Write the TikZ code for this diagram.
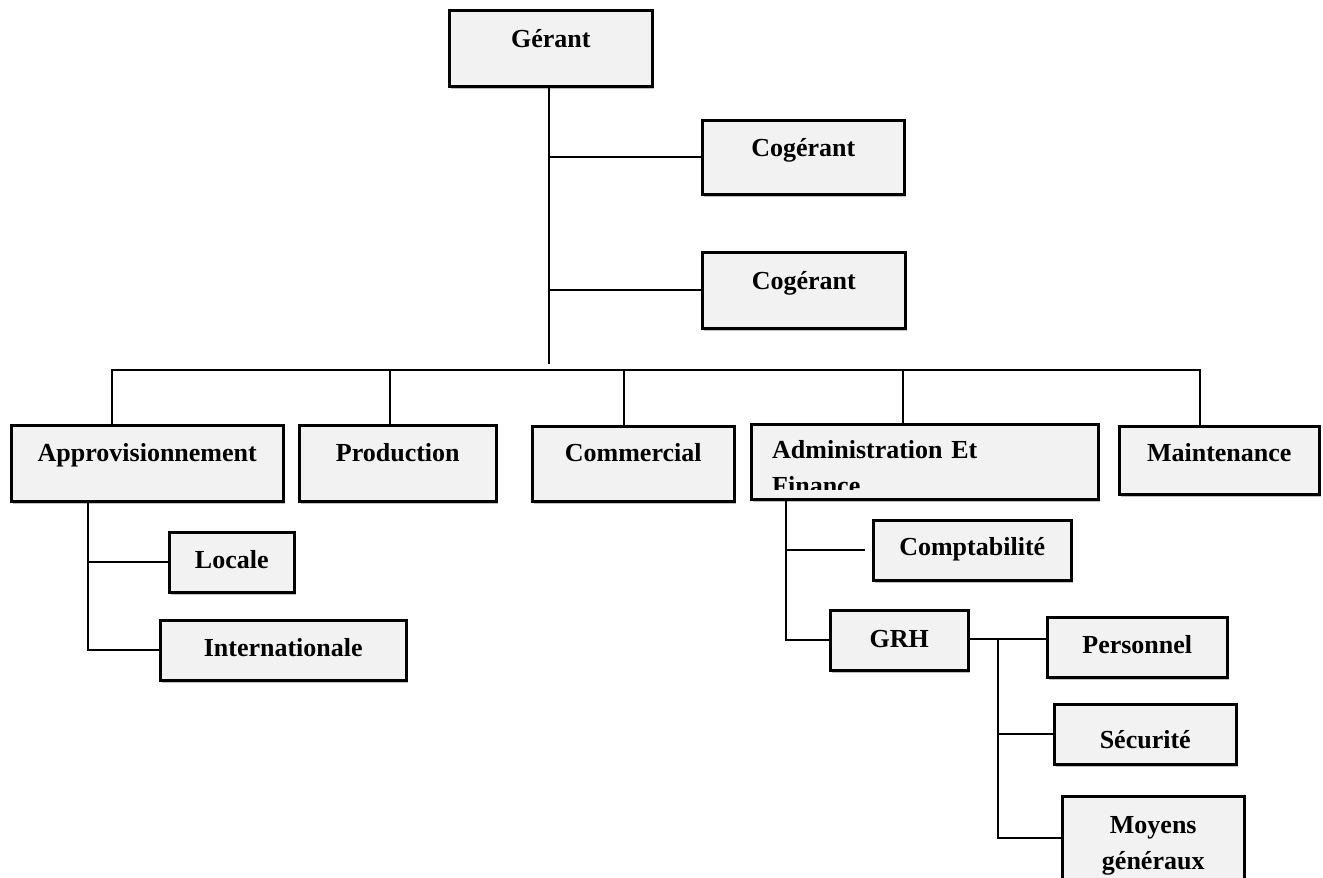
\documentclass[tikz,border=0pt]{standalone}
\usepackage{fontspec}
\setmainfont{Liberation Serif}
\usetikzlibrary{shadows}
\definecolor{boxgray}{HTML}{F2F2F2}
\begin{document}
\begin{tikzpicture}[x=1pt,y=-1pt,
  orgbox/.style={draw=black, line width=2.5pt, fill=boxgray, inner sep=0pt,
    align=center, anchor=north west,
    font=\bfseries\fontsize{26}{36}\selectfont,
    drop shadow={shadow xshift=2pt, shadow yshift=-3pt, fill=black, opacity=0.25}},
  link/.style={draw=black, line width=2.3pt}]
\useasboundingbox (0,0) rectangle (1323,878);
\clip (0,0) rectangle (1323,878);
\fill[white] (0,0) rectangle (1323,878);

% boxes
\node[orgbox, text width=203pt, text height=37pt, text depth=39pt] (g) at (448,9) {Gérant};
\node[orgbox, text width=202pt, text height=36pt, text depth=38pt] (cog1) at (701,119) {Cogérant};
\node[orgbox, text width=203pt, text height=37pt, text depth=39pt] (cog2) at (701,251) {Cogérant};
\node[orgbox, text width=272pt, text height=36pt, text depth=40pt] (appro) at (10,424) {Approvisionnement};
\node[orgbox, text width=197pt, text height=36pt, text depth=40pt] (prod) at (298,424) {Production};
\node[orgbox, text width=202pt, text height=35pt, text depth=40pt] (comm) at (531,425) {Commercial};
\node[orgbox, text width=347pt, text height=75pt, text depth=0pt] (admin) at (750,423) {};
\node[orgbox, text width=200pt, text height=35pt, text depth=33pt] (maint) at (1118,425) {Maintenance};
\node[orgbox, text width=125pt, text height=36pt, text depth=24pt] (loc) at (168,531) {Locale};
\node[orgbox, text width=246pt, text height=36pt, text depth=24pt] (intl) at (159,619) {Internationale};
\node[orgbox, text width=198pt, text height=35pt, text depth=25pt] (compta) at (872,519) {Comptabilité};
\node[orgbox, text width=138pt, text height=37pt, text depth=23pt] (grh) at (829,609) {GRH};
\node[orgbox, text width=180pt, text height=36pt, text depth=24pt] (pers) at (1046,616) {Personnel};
\node[orgbox, text width=182pt, text height=44pt, text depth=16pt] (secu) at (1053,703) {Sécurité};
\node[orgbox, text width=182pt, text height=37pt, text depth=73pt] (moy) at (1061,795) {Moyens\\généraux};

% clipped two-line label of Administration
\begin{scope}
  \clip (750,423) rectangle (1097,489);
  \node[anchor=base west, inner sep=0pt, text width=320pt, align=left,
        font=\bfseries\fontsize{26}{36}\selectfont] (admtxt) at (772,458)
        {Administration Et\\Finance};
\end{scope}

% coordinates
\coordinate (tTop) at (549,85);
\coordinate (tEnd) at (549,364);
\coordinate (dA) at (112,370);
\coordinate (dP) at (390,370);
\coordinate (dC) at (624,370);
\coordinate (dF) at (903,370);
\coordinate (dM) at (1200,370);
\coordinate (aV) at (88,500);
\coordinate (fV) at (786,498);
\coordinate (gV) at (998,639);
\coordinate (mB) at (1061,838);

% connectors
\draw[link] (tTop) -- (tEnd);
\draw[link] (tTop |- cog1.west) -- (cog1.west);
\draw[link] (tTop |- cog2.west) -- (cog2.west);
\draw[link] (dA |- appro.north) -- (dA) -- (dM) -- (dM |- maint.north);
\draw[link] (dP) -- (dP |- prod.north);
\draw[link] (dC) -- (dC |- comm.north);
\draw[link] (dF) -- (dF |- admin.north);
\draw[link] (aV) |- (intl.west);
\draw[link] (aV |- loc.west) -- (loc.west);
\draw[link] (fV) |- (grh.west);
\draw[link] (fV |- compta.west) -- ([xshift=-7pt]compta.west);
\draw[link] (grh.east |- gV) -- (pers.west |- gV);
\draw[link] (gV) |- (mB);
\draw[link] (gV |- secu.west) -- (secu.west);
\end{tikzpicture}
\end{document}
